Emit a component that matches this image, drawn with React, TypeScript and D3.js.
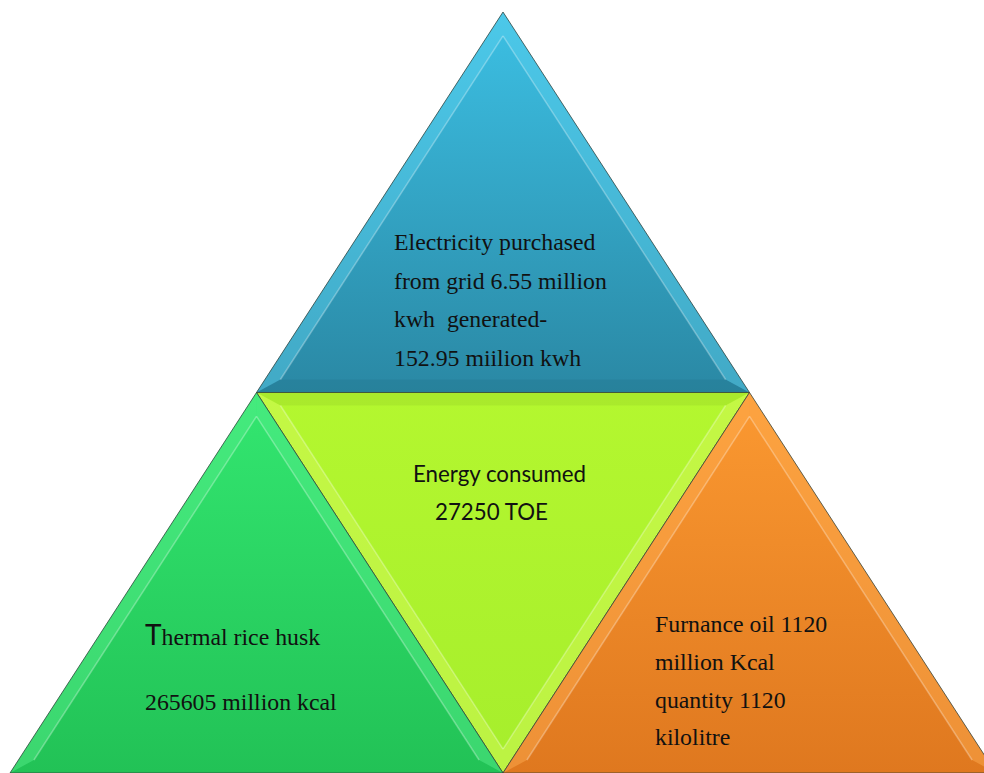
import React from "react";
import * as d3 from "d3";

// ---- data ----
const segmentNames = ["electricity", "energy", "thermal", "furnace"];
// unit-triangle coordinates of each sub-triangle
const segmentVertices: [number, number][][] = [
  [[0.5, 0], [0.25, 0.5], [0.75, 0.5]],
  [[0.25, 0.5], [0.75, 0.5], [0.5, 1]],
  [[0.25, 0.5], [0, 1], [0.5, 1]],
  [[0.75, 0.5], [0.5, 1], [1, 1]],
];
const segmentTopColors = ["#3cc0e4", "#b4f72f", "#33e670", "#fb9931"];
const segmentBottomColors = ["#2a88a4", "#a6ee2c", "#22c256", "#df781f"];
const segmentBevelColors = ["#5fd3f0", "#d8f960", "#5cf08e", "#ffb054"];

const electricityLines = [
  "Electricity purchased",
  "from grid 6.55 million",
  "kwh  generated-",
  "152.95 miilion kwh",
];
const energyLines = ["Energy consumed", "27250 TOE"];
const thermalFirstLetter = "T";
const thermalLines = ["hermal rice husk", "265605 million kcal"];
const furnaceLines = ["Furnance oil 1120", "million Kcal", "quantity 1120", "kilolitre"];

const W = 984;
const H = 773;

const xS = d3.scaleLinear().domain([0, 1]).range([10, 996]);
const yS = d3.scaleLinear().domain([0, 1]).range([12, 773]);

type P = [number, number];

function inset(v: P[], d: number): P[] {
  const [A, B, C] = v;
  const a = Math.hypot(B[0] - C[0], B[1] - C[1]);
  const b = Math.hypot(A[0] - C[0], A[1] - C[1]);
  const c = Math.hypot(A[0] - B[0], A[1] - B[1]);
  const p = a + b + c;
  const I: P = [(a * A[0] + b * B[0] + c * C[0]) / p, (a * A[1] + b * B[1] + c * C[1]) / p];
  const s = p / 2;
  const area = Math.abs((B[0] - A[0]) * (C[1] - A[1]) - (C[0] - A[0]) * (B[1] - A[1])) / 2;
  const r = area / s;
  const k = (r - d) / r;
  return v.map((q) => [I[0] + (q[0] - I[0]) * k, I[1] + (q[1] - I[1]) * k] as P);
}

const line = d3.line<P>().x((d) => d[0]).y((d) => d[1]).curve(d3.curveLinearClosed);

const SERIF = "'Liberation Serif', 'Times New Roman', serif";
const SANS = "Lato, 'Liberation Sans', sans-serif";
const FS = 23.8;

export default function App() {
  const tris = segmentVertices.map((vs) => vs.map(([u, w]) => [xS(u), yS(w)] as P));
  const bevel = 13;

  return (
    <svg
      width={W}
      height={H}
      style={{ position: "absolute", left: 0, top: 0, background: "#fff" }}
    >
      <defs>
        {segmentNames.map((n, i) => {
          const ys = tris[i].map((p) => p[1]);
          return (
            <linearGradient
              key={n}
              id={`g-${n}`}
              gradientUnits="userSpaceOnUse"
              x1={0}
              x2={0}
              y1={d3.min(ys)!}
              y2={d3.max(ys)!}
            >
              <stop offset="0%" stopColor={segmentTopColors[i]} />
              <stop offset="100%" stopColor={segmentBottomColors[i]} />
            </linearGradient>
          );
        })}
      </defs>
      {segmentNames.map((n, i) => {
        const outer = tris[i];
        const inner = inset(outer, bevel);
        const strips = [0, 1, 2].map((e) => {
          const j = (e + 1) % 3;
          const horizontal = Math.abs(outer[e][1] - outer[j][1]) < 1;
          const atBottom = horizontal && outer[e][1] > H - 2;
          return {
            pts: [outer[e], outer[j], inner[j], inner[e]] as P[],
            horizontal,
            atBottom,
            a: inner[e],
            b: inner[j],
          };
        });
        return (
          <g key={n}>
            <path d={line(outer)!} fill={`url(#g-${n})`} />
            {strips.map((s, k) =>
              s.horizontal ? (
                s.atBottom ? null : (
                  <path key={k} d={line(s.pts)!} fill="#000" opacity={0.05} />
                )
              ) : (
                <g key={k}>
                  <path d={line(s.pts)!} fill={segmentBevelColors[i]} opacity={0.45} />
                  <line
                    x1={s.a[0]}
                    y1={s.a[1]}
                    x2={s.b[0]}
                    y2={s.b[1]}
                    stroke="#fff"
                    strokeOpacity={0.3}
                    strokeWidth={1.5}
                  />
                </g>
              )
            )}
            <path d={line(outer)!} fill="none" stroke="#2f3f3a" strokeOpacity={0.75} strokeWidth={1} />
          </g>
        );
      })}

      {/* electricity text */}
      <g fontFamily={SERIF} fontSize={FS} fill="#111">
        {electricityLines.map((t, i) => (
          <text key={t} x={394} y={250 + i * 38.5} style={{ whiteSpace: "pre" }}>
            {t}
          </text>
        ))}
      </g>

      {/* energy text */}
      <g fontFamily={SANS} fontSize={22.3} fill="#111">
        <text x={413} y={482}>{energyLines[0]}</text>
        <text x={435} y={520}>{energyLines[1]}</text>
      </g>

      {/* thermal text */}
      <g fill="#111">
        <text x={145} y={645}>
          <tspan fontFamily={SANS} fontSize={28}>{thermalFirstLetter}</tspan>
          <tspan fontFamily={SERIF} fontSize={FS}>{thermalLines[0]}</tspan>
        </text>
        <text x={145} y={710} fontFamily={SERIF} fontSize={FS}>{thermalLines[1]}</text>
      </g>

      {/* furnace text */}
      <g fontFamily={SERIF} fontSize={FS} fill="#111">
        {furnaceLines.map((t, i) => (
          <text key={t} x={655} y={632 + i * 37.8}>
            {t}
          </text>
        ))}
      </g>
    </svg>
  );
}
